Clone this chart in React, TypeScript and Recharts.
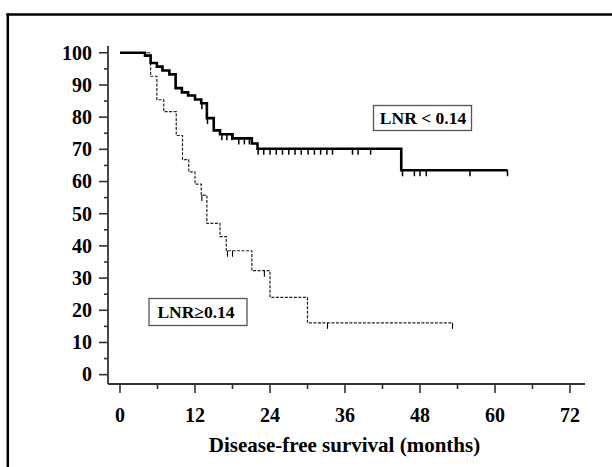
import { ComposedChart, Line, Scatter, XAxis, YAxis } from "recharts";

const FONT = '"Liberation Serif", "Times New Roman", serif';
const AXIS = "#333";

// LNR < 0.14 (solid): step points, months vs % disease-free
const lowMonths = [0, 4.0, 4.9, 5.9, 6.8, 7.9, 8.9, 9.9, 10.9, 12.0, 13.0, 13.9, 15.0, 16.0, 18.0, 21.1, 22.0, 45.0, 62.0];
const lowSurvival = [100, 99.1, 96.8, 95.7, 94.5, 93.3, 89.0, 87.7, 86.7, 85.5, 84.3, 79.7, 75.9, 74.7, 73.4, 71.8, 70.2, 63.5, 63.5];
const lowCensored = [
  13.1, 14.0, 16.3, 17.1, 17.9, 19.0, 19.9, 20.7, 22.1, 23.0, 24.0, 25.0, 26.0, 27.0, 28.0, 29.0, 30.1,
  31.1, 32.1, 33.1, 34.0, 37.2, 38.1, 40.1, 45.2, 47.1, 48.0, 49.0, 56.0, 62.0,
];

// LNR >= 0.14 (dashed)
const highMonths = [0, 4.9, 5.9, 7.0, 9.0, 10.0, 11.0, 12.0, 13.0, 13.9, 16.0, 17.0, 21.1, 24.0, 30.0, 53.2];
const highSurvival = [100, 92.7, 85.4, 81.7, 74.3, 66.8, 63.0, 59.2, 55.8, 47.0, 42.9, 38.5, 32.3, 24.0, 16.1, 16.1];
const highCensored = [13.1, 17.2, 18.0, 23.1, 33.2, 53.2];

const xTicks = [0, 6, 12, 18, 24, 30, 36, 42, 48, 54, 60, 66, 72];
const yTicks = [0, 5, 10, 15, 20, 25, 30, 35, 40, 45, 50, 55, 60, 65, 70, 75, 80, 85, 90, 95, 100];

const toRows = (months: number[], survival: number[]) => months.map((t, i) => ({ t, s: survival[i] }));

// survival value of the step curve at time t (where a censor mark sits)
const survivalAt = (months: number[], survival: number[], t: number) => {
  let v = survival[0];
  months.forEach((m, i) => {
    if (m <= t) v = survival[i];
  });
  return v;
};

const censorRows = (months: number[], survival: number[], times: number[]) =>
  times.map((t) => ({ t, s: survivalAt(months, survival, t) }));

const lowRows = toRows(lowMonths, lowSurvival);
const highRows = toRows(highMonths, highSurvival);
const lowCensorRows = censorRows(lowMonths, lowSurvival, lowCensored);
const highCensorRows = censorRows(highMonths, highSurvival, highCensored);

const XTick = (props: any) => {
  const { x, y, payload } = props;
  const major = payload.value % 12 === 0;
  return (
    <g>
      <line x1={x} y1={y} x2={x} y2={y + (major ? 9 : 5)} stroke={AXIS} strokeWidth={1.6} />
      {major && (
        <text x={x} y={y + 37.5} textAnchor="middle" fontFamily={FONT} fontWeight="bold" fontSize={20} fill="#000">
          {payload.value}
        </text>
      )}
    </g>
  );
};

const YTick = (props: any) => {
  const { x, y, payload } = props;
  const major = payload.value % 10 === 0;
  return (
    <g>
      <line x1={x - (major ? 9 : 4)} y1={y} x2={x} y2={y} stroke={AXIS} strokeWidth={1.6} />
      {major && (
        <text x={x - 16} y={y + 6.8} textAnchor="end" fontFamily={FONT} fontWeight="bold" fontSize={20} fill="#000">
          {payload.value}
        </text>
      )}
    </g>
  );
};

const censorMark = (width: number) => (props: any) => {
  const { cx, cy } = props;
  return <line x1={cx} y1={cy} x2={cx} y2={cy + 6} stroke="#000" strokeWidth={width} />;
};

export default function App() {
  return (
    <div style={{ position: "absolute", left: 0, top: 0, width: 612, height: 467, overflow: "hidden", background: "#fff" }}>
      <ComposedChart width={612} height={467} margin={{ top: 46, right: 27, bottom: 0, left: 0 }}>
        <XAxis
          type="number"
          dataKey="t"
          domain={[-1.92, 74.4]}
          allowDataOverflow
          ticks={xTicks}
          interval={0}
          tickSize={0}
          tickMargin={0}
          tickLine={false}
          tick={<XTick />}
          height={83}
          axisLine={{ stroke: AXIS, strokeWidth: 1.8 }}
        />
        <YAxis
          type="number"
          dataKey="s"
          domain={[-2.9, 102.1]}
          allowDataOverflow
          ticks={yTicks}
          interval={0}
          tickSize={0}
          tickMargin={0}
          tickLine={false}
          tick={<YTick />}
          width={108}
          axisLine={{ stroke: AXIS, strokeWidth: 1.8 }}
        />
        <Line
          data={highRows}
          dataKey="s"
          type="stepAfter"
          stroke="#222"
          strokeWidth={1.2}
          strokeDasharray="3 1.5"
          dot={false}
          activeDot={false}
          isAnimationActive={false}
        />
        <Line
          data={lowRows}
          dataKey="s"
          type="stepAfter"
          stroke="#000"
          strokeWidth={2.6}
          dot={false}
          activeDot={false}
          isAnimationActive={false}
        />
        <Scatter data={highCensorRows} dataKey="s" shape={censorMark(1.1)} isAnimationActive={false} />
        <Scatter data={lowCensorRows} dataKey="s" shape={censorMark(1.5)} isAnimationActive={false} />
      </ComposedChart>
      <svg width={612} height={467} style={{ position: "absolute", left: 0, top: 0, pointerEvents: "none" }}>
        <line x1={6.5} y1={14.5} x2={612} y2={14.5} stroke="#000" strokeWidth={2.5} />
        <line x1={7.8} y1={13.3} x2={7.8} y2={467} stroke="#000" strokeWidth={2.5} />
        <rect x={373.5} y={105.5} width={98} height={25} fill="#fff" stroke="#555" strokeWidth={1.3} />
        <text x={423} y={123.8} textAnchor="middle" fontFamily={FONT} fontWeight="bold" fontSize={17.5} fill="#000">
          LNR &lt; 0.14
        </text>
        <rect x={149} y={298.5} width={98} height={27} fill="#fff" stroke="#555" strokeWidth={1.3} />
        <text x={196} y={317.5} textAnchor="middle" fontFamily={FONT} fontWeight="bold" fontSize={17.5} fill="#000">
          LNR≥0.14
        </text>
        <text x={344.5} y={452.3} textAnchor="middle" fontFamily={FONT} fontWeight="bold" fontSize={21} fill="#000">
          Disease-free survival (months)
        </text>
      </svg>
    </div>
  );
}
